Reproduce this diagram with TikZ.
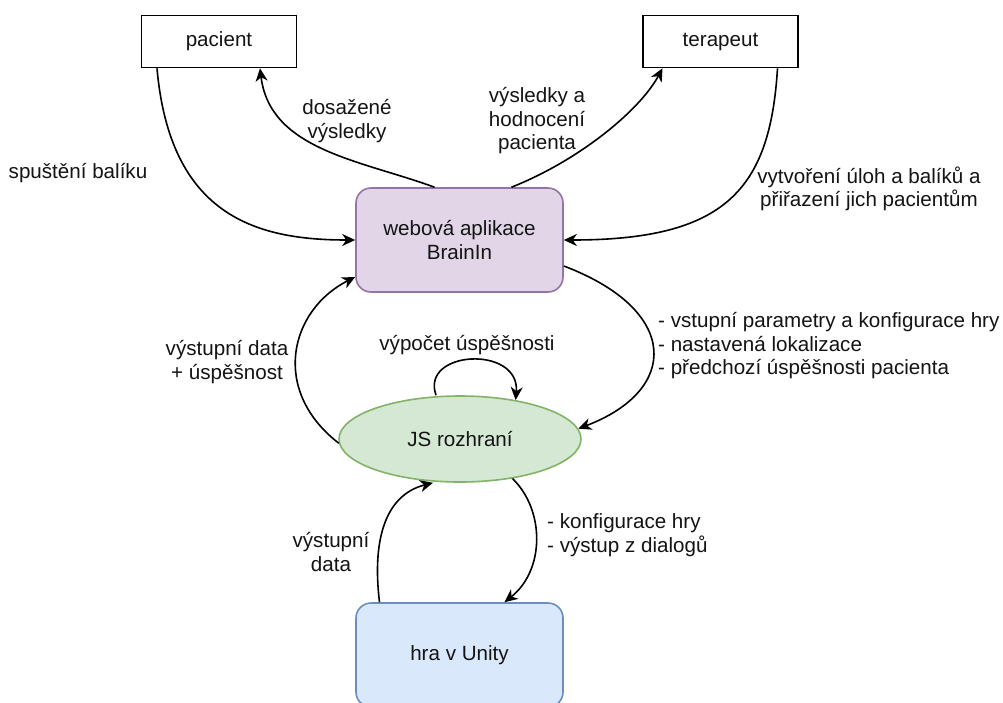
\documentclass[tikz,border=0pt]{standalone}
\usepackage{fontspec}
\setmainfont{Liberation Sans}
\usetikzlibrary{arrows.meta,shapes.geometric,calc}
\definecolor{purpfill}{HTML}{E1D5E7}
\definecolor{purpline}{HTML}{9673A6}
\definecolor{greenfill}{HTML}{D5E8D4}
\definecolor{greenline}{HTML}{82B366}
\definecolor{bluefill}{HTML}{DAE8FC}
\definecolor{blueline}{HTML}{6C8EBF}
\tikzset{
  every node/.style={font=\fontsize{20.6}{23.5}\selectfont, text=black!92},
  plainbox/.style={draw=black, line width=1.6pt, minimum width=155pt, minimum height=52pt, inner sep=0pt},
  roundbox/.style={line width=1.6pt, rounded corners=15pt, minimum width=207pt, minimum height=104pt, inner sep=0pt, align=center},
  ellbox/.style={ellipse, line width=1.6pt, minimum width=242pt, minimum height=86pt, inner sep=0pt},
  lbl/.style={align=center, inner sep=0pt},
  lbll/.style={align=left, inner sep=0pt},
  conn/.style={line width=1.6pt, -{Stealth[length=13pt,width=12pt,inset=4pt]}},
}
\begin{document}
\begin{tikzpicture}[x=1pt,y=-1pt]
\useasboundingbox (0,0) rectangle (1003,702);
\fill[white] (0,0) rectangle (1003,702);

\node[plainbox] (pac) at (219,41.5) {pacient};
\node[plainbox] (ter) at (720.5,41.5) {terapeut};
\node[roundbox, fill=purpfill, draw=purpline] (web) at (459.5,240) {webová aplikace\\BrainIn};
\node[ellbox, fill=greenfill, draw=greenline] (js) at (460,439) {JS rozhraní};
\node[roundbox, fill=bluefill, draw=blueline] (hra) at (459.5,655) {hra v Unity};

% pacient -> web
\draw[conn] ([xshift=-62pt]pac.south) .. controls (170,215) and (255,240) .. (web.west);
% web -> pacient
\draw[conn] ([xshift=-25pt]web.north) .. controls (360,160) and (270,150) .. ([xshift=41pt]pac.south);
% web -> terapeut
\draw[conn] ([xshift=52pt]web.north) .. controls (580,160) and (640,110) .. ([xshift=-58pt]ter.south);
% terapeut -> web
\draw[conn] ([xshift=57pt]ter.south) .. controls (770,190) and (725,240) .. (web.east);
% web -> js
\draw[conn] ([yshift=-26pt]web.east) .. controls (680,310) and (680,390) .. (js.5);
% js -> web
\draw[conn] (js.182) .. controls (270,390) and (290,310) .. ([yshift=-37pt]web.west);
% self loop
\draw[conn] ([xshift=-24pt]js.north) .. controls (420,350) and (520,345) .. (js.35);
% hra -> js
\draw[conn] ([xshift=-80pt]hra.north) .. controls (372,540) and (385,495) .. ([xshift=-27pt]js.south);
% js -> hra
\draw[conn] (js.-37) .. controls (545,510) and (545,570) .. ([xshift=45pt]hra.north);

\node[lbl] (l1) at (78,173) {spuštění balíku};
\node[lbl] (l2) at (347,121) {dosažené\\výsledky};
\node[lbl] (l3) at (537,121) {výsledky a\\hodnocení\\pacienta};
\node[lbl] (l4) at (869,189) {vytvoření úloh a balíků a\\přiřazení jich pacientům};
\node[lbll, anchor=west] (l5) at (658,346) {- vstupní parametry a konfigurace hry\\- nastavená lokalizace\\- předchozí úspěšnosti pacienta};
\node[lbl] (l6) at (227,362) {výstupní data\\+ úspěšnost};
\node[lbl] (l7) at (467,345) {výpočet úspěšnosti};
\node[lbl] (l8) at (331,552) {výstupní\\data};
\node[lbll, anchor=west] (l9) at (547,535) {- konfigurace hry\\- výstup z dialogů};
\end{tikzpicture}
\end{document}
